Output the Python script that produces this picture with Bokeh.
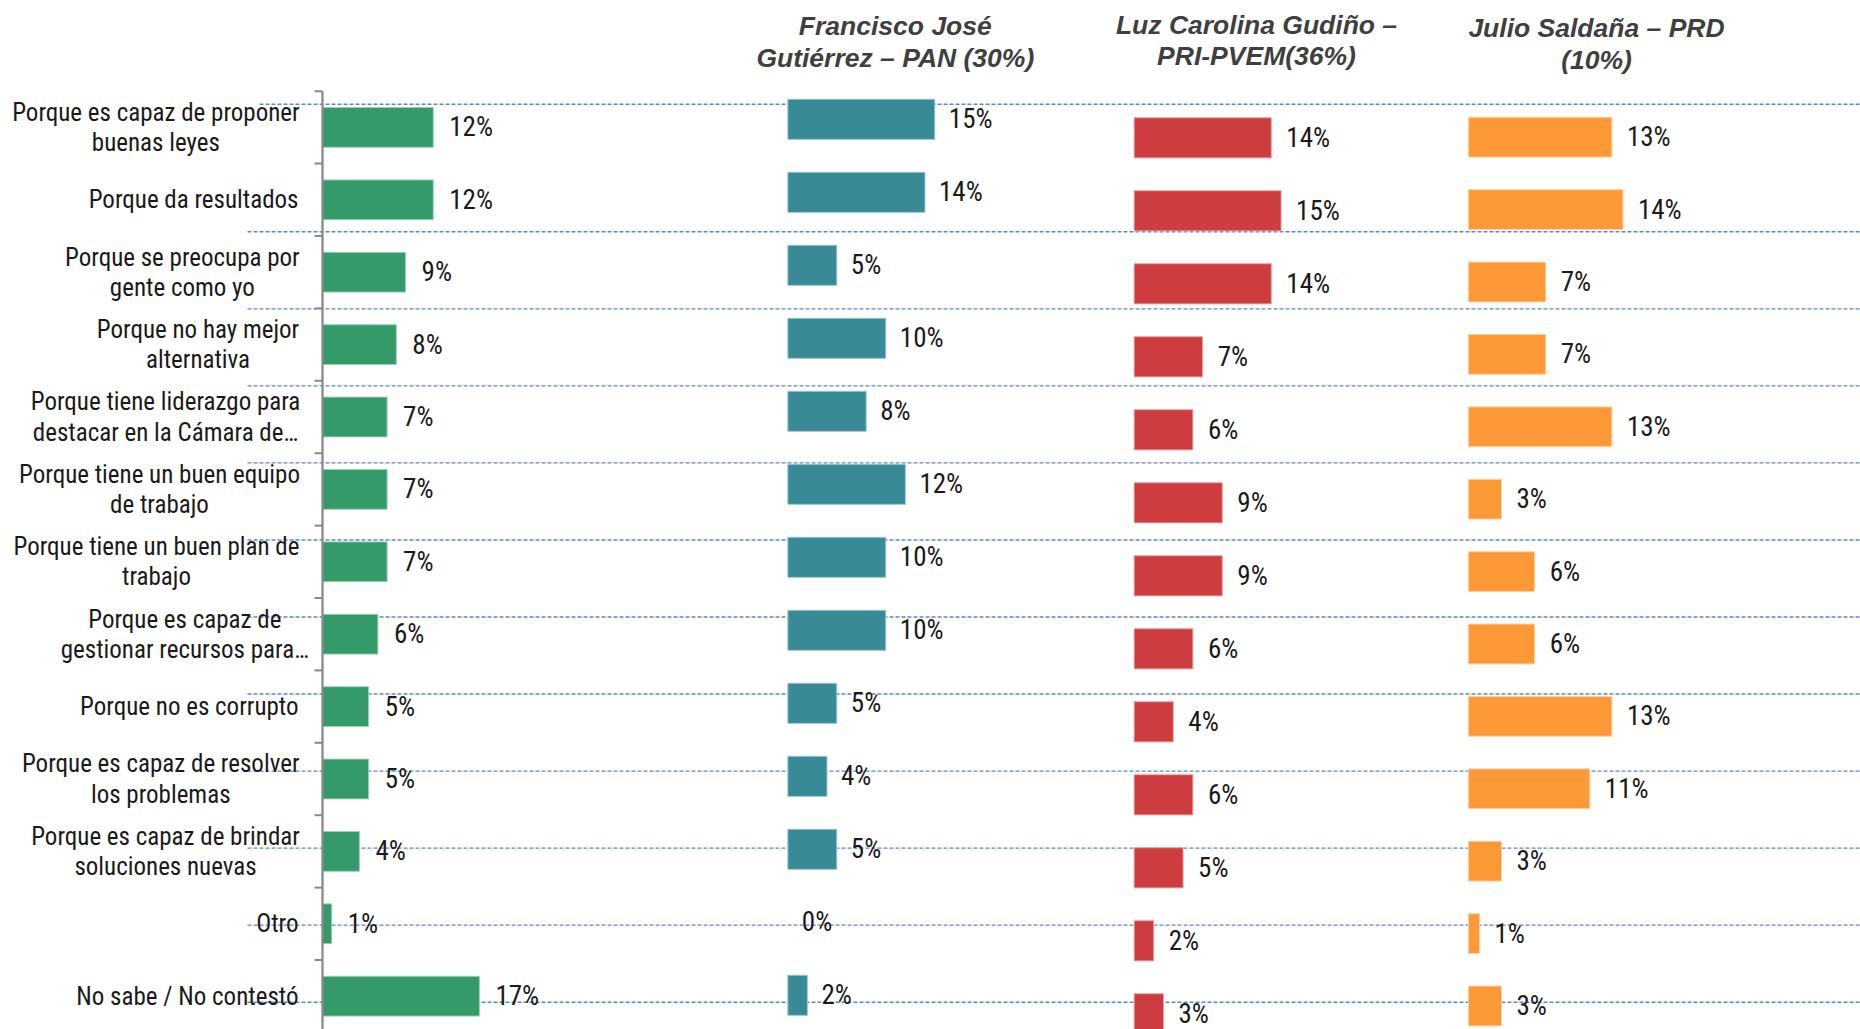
from bokeh.plotting import figure
from bokeh.models import Range1d, ColumnDataSource
from bokeh.core.properties import value
from bokeh.embed import file_html
from bokeh.resources import INLINE

# ---------------- data ----------------
categories = [
    "Porque es capaz de proponer\nbuenas leyes",
    "Porque da resultados",
    "Porque se preocupa por\ngente como yo",
    "Porque no hay mejor\nalternativa",
    "Porque tiene liderazgo para\ndestacar en la Cámara de…",
    "Porque tiene un buen equipo\nde trabajo",
    "Porque tiene un buen plan de\ntrabajo",
    "Porque es capaz de\ngestionar recursos para…",
    "Porque no es corrupto",
    "Porque es capaz de resolver\nlos problemas",
    "Porque es capaz de brindar\nsoluciones nuevas",
    "Otro",
    "No sabe / No contestó",
]
total_pct = [12, 12, 9, 8, 7, 7, 7, 6, 5, 5, 4, 1, 17]
pan_pct = [15, 14, 5, 10, 8, 12, 10, 10, 5, 4, 5, 0, 2]
pri_pct = [14, 15, 14, 7, 6, 9, 9, 6, 4, 6, 5, 2, 3]
prd_pct = [13, 14, 7, 7, 13, 3, 6, 6, 13, 11, 3, 1, 3]
titles = {
    "pan": ["Francisco José", "Gutiérrez – PAN (30%)"],
    "pri": ["Luz Carolina Gudiño –", "PRI-PVEM(36%)"],
    "prd": ["Julio Saldaña – PRD", "(10%)"],
}

# ---------------- layout (page pixels) ----------------
W, H = 1860, 1029
OFF = 0
PANELS = {
    "total": dict(x0=322.0, s=9.23, c0=126.9, step=72.4, color="#359A69",
                  edge="#9fd0b6", lo=16, vals=total_pct),
    "pan": dict(x0=787.3, s=9.8, c0=118.8, step=73.0, color="#398A97",
                edge="#a4cbd1", lo=14, vals=pan_pct),
    "pri": dict(x0=1133.6, s=9.8, c0=137.3, step=73.0, color="#CD3C3F",
                edge="#eaa6a7", lo=15, vals=pri_pct),
    "prd": dict(x0=1467.9, s=11.04, c0=136.7, step=72.4, color="#FD9A37",
                edge="#fed2a6", lo=15, vals=prd_pct),
}
TITLE_POS = {"pan": (894.8, 25.0, 57.0), "pri": (1256.0, 24.0, 55.0), "prd": (1596.0, 27.0, 59.0)}
NARROW = value("Roboto Condensed")
BOLDIT = value("Liberation Sans")
TXT = "#1a1a1a"


def xr(pn):
    return Range1d(start=(OFF - pn["x0"]) / pn["s"], end=(OFF + W - pn["x0"]) / pn["s"])


def yr(pn):
    return Range1d(start=(OFF + H - pn["c0"]) / pn["step"], end=(OFF - pn["c0"]) / pn["step"])


p = figure(width=W, height=H, x_range=xr(PANELS["total"]), y_range=yr(PANELS["total"]),
           output_backend="svg", toolbar_location=None, min_border=0,
           x_axis_location=None, y_axis_location=None, outline_line_color=None,
           background_fill_color="white", border_fill_color="white")
p.xgrid.visible = False
p.ygrid.visible = False
for k in ("pan", "pri", "prd"):
    p.extra_x_ranges[k] = xr(PANELS[k])
    p.extra_y_ranges[k] = yr(PANELS[k])
p.extra_x_ranges["px"] = Range1d(OFF, OFF + W)
p.extra_y_ranges["px"] = Range1d(OFF + H, OFF)

# background dashed guide lines
guide_y = [103.7] + [231.3 + 77.04 * k for k in range(11)]
guide_x0 = [259] + [247] * 11
p.segment(x0=guide_x0, x1=[1870] * len(guide_y), y0=guide_y, y1=guide_y,
          x_range_name="px", y_range_name="px", line_color="#5B88CF",
          line_width=1.4, line_dash="4 2")

# bars and value labels
rows = list(range(len(categories)))
for k, pn in PANELS.items():
    xn = "default" if k == "total" else k
    src = ColumnDataSource(dict(y=rows, v=pn["vals"], lab=[f"{v}%" for v in pn["vals"]],
                                la=[1.0 if v > 0 else 0.0 for v in pn["vals"]]))
    p.hbar(y="y", left=0, right="v", height=0.55, source=src, fill_color=pn["color"],
           line_color=pn["edge"], line_alpha="la", line_width=1,
           x_range_name=xn, y_range_name=xn)
    p.text(x="v", y="y", text="lab", source=src, x_offset=pn["lo"], text_align="left",
           text_baseline="middle", text_font=NARROW, text_font_size="27px",
           text_color=TXT, x_range_name=xn, y_range_name=xn)

# category axis line + ticks (left panel)
p.segment(x0=[322], x1=[322], y0=[-0.5], y1=[13.5], x_range_name="px",
          line_color="#8a8a8a", line_width=2.3)
bounds = [i - 0.5 for i in range(len(categories) + 1)]
p.segment(x0=[314] * len(bounds), x1=[322] * len(bounds), y0=bounds, y1=bounds,
          x_range_name="px", line_color="#8a8a8a", line_width=2)

# category labels: lines centred on each other, block right-aligned to the axis
AW = dict(a=556, b=556, c=500, d=556, e=556, f=278, g=556, h=556, i=222, j=222, l=222,
          m=833, n=556, o=556, p=556, q=556, r=333, s=500, t=278, u=556, v=500, y=500,
          z=500, P=667, C=722, N=722, O=778)
AW.update({" ": 278, "á": 556, "ó": 556, "é": 556, "/": 278, ".": 278, "…": 0})
FS = 25


def est_w(line):
    return sum(AW.get(ch, 556) for ch in line) / 1000.0 * 0.866 * FS


single = [i for i, c in enumerate(categories) if "\n" not in c]
multi = [i for i, c in enumerate(categories) if "\n" in c]
offs = {i: -24 - max(est_w(l) for l in categories[i].split("\n")) / 2 for i in multi}
s1 = ColumnDataSource(dict(y=[rows[i] for i in single], t=[categories[i] for i in single],
                           x=[0] * len(single)))
s2 = ColumnDataSource(dict(y=[rows[i] for i in multi], t=[categories[i] for i in multi],
                           xo=[offs[i] for i in multi], x=[0] * len(multi)))
p.text(x="x", y="y", text="t", source=s1, x_offset=-24, text_align="right",
       text_baseline="middle", text_font=NARROW, text_font_size=f"{FS}px", text_color=TXT)
p.text(x="x", y="y", text="t", source=s2, x_offset="xo", text_align="center",
       text_baseline="middle", text_font=NARROW, text_font_size=f"{FS}px", text_color=TXT,
       text_line_height=1.04)

# panel titles
for k, lines in titles.items():
    cx, y1, y2 = TITLE_POS[k]
    p.text(x=[cx, cx], y=[y1, y2], text=lines, x_range_name="px", y_range_name="px",
           text_align="center", text_baseline="middle", text_font=BOLDIT,
           text_font_style="bold italic", text_font_size="26.5px", text_color="#3f3f3f")

open("out.html", "w").write(file_html(p, INLINE))
